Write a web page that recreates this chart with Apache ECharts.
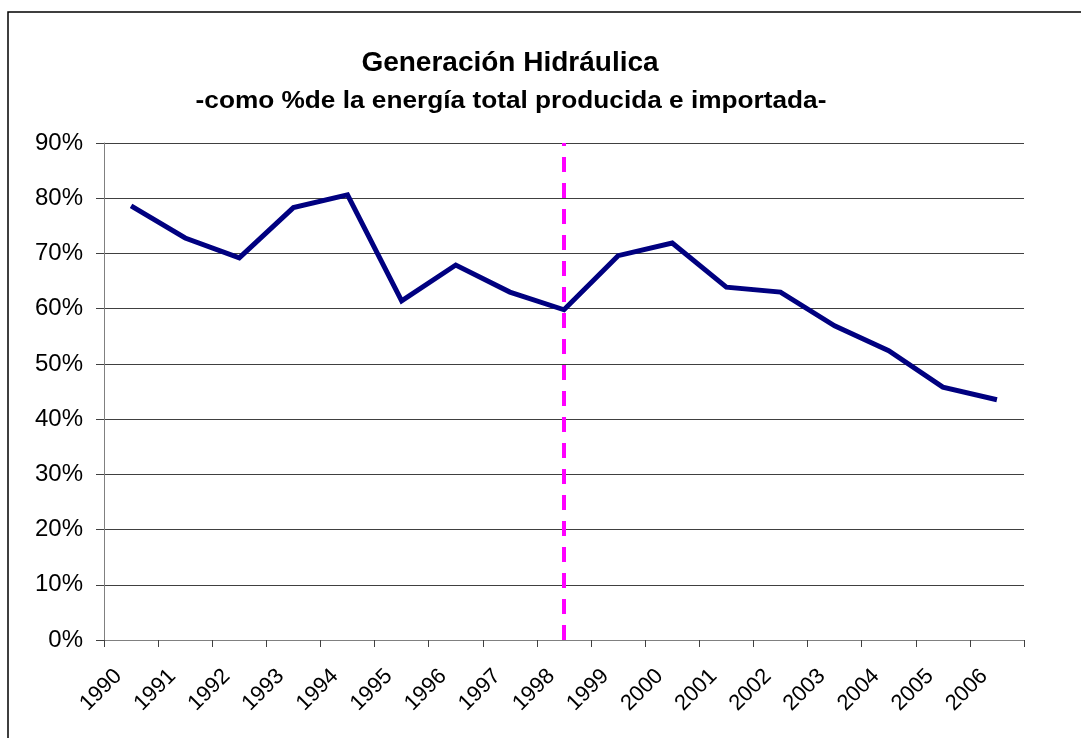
<!DOCTYPE html>
<html>
<head>
<meta charset="utf-8">
<script src="https://cdn.jsdelivr.net/npm/echarts@6/dist/echarts.min.js"></script>
<style>
html,body{margin:0;padding:0;background:#fff;}
#chart{width:1081px;height:738px;}
</style>
</head>
<body>
<div id="chart"></div>
<script>
const years = ['1990','1991','1992','1993','1994','1995','1996','1997','1998','1999','2000','2001','2002','2003','2004','2005','2006'];
const hydroShare = [78.6, 72.8, 69.2, 78.3, 80.6, 61.4, 67.9, 63.0, 59.8, 69.6, 71.9, 63.9, 63.0, 56.9, 52.4, 45.8, 43.5];
const markerYear = '1998';
const titleText = 'Generación Hidráulica';
const subtitleText = '-como %de la energía total producida e importada-';

const chart = echarts.init(document.getElementById('chart'));
chart.setOption({
  backgroundColor: '#fff',
  animation: false,
  graphic: [{
    type: 'rect',
    shape: { x: 8, y: 12, width: 1100, height: 760 },
    style: { fill: 'none', stroke: '#000', lineWidth: 1.5 },
    silent: true
  }, {
    type: 'text',
    x: 510, y: 63,
    style: { text: titleText, x: 0, y: 0, textAlign: 'center', textVerticalAlign: 'middle',
      font: 'bold 28px "Liberation Sans", Arial', fill: '#000' },
    silent: true
  }, {
    type: 'text',
    x: 511, y: 102,
    scaleX: 1.14,
    style: { text: subtitleText, x: 0, y: 0, textAlign: 'center', textVerticalAlign: 'middle',
      font: 'bold 23px "Liberation Sans", Arial', fill: '#000' },
    silent: true
  }],
  grid: { left: 104, right: 57, top: 143, bottom: 98 },
  xAxis: {
    type: 'category',
    data: years,
    boundaryGap: true,
    axisLine: { lineStyle: { color: '#808080', width: 1 } },
    axisTick: { show: true, length: 7, alignWithLabel: false, lineStyle: { color: '#404040' } },
    axisLabel: {
      interval: 0, rotate: 45, margin: 20,
      padding: [0, 18, 0, 0],
      fontFamily: 'Liberation Sans, Arial', fontSize: 22, color: '#000'
    },
    splitLine: { show: false }
  },
  yAxis: {
    type: 'value',
    min: 0, max: 90, interval: 10,
    axisLine: { show: true, lineStyle: { color: '#808080', width: 1 } },
    axisTick: { show: true, length: 8, lineStyle: { color: '#404040' } },
    axisLabel: {
      formatter: '{value}%', margin: 21,
      fontFamily: 'Liberation Sans, Arial', fontSize: 24, color: '#000'
    },
    splitLine: { show: true, lineStyle: { color: '#404040', width: 1 } }
  },
  series: [{
    type: 'line',
    data: hydroShare,
    symbol: 'none',
    lineStyle: { color: '#000080', width: 5, join: 'miter' },
    markLine: {
      silent: true,
      symbol: ['none', 'none'],
      label: { show: false },
      lineStyle: { color: '#FF00FF', width: 4, type: [15, 11] },
      data: [{ xAxis: markerYear }]
    }
  }]
});
</script>
</body>
</html>
